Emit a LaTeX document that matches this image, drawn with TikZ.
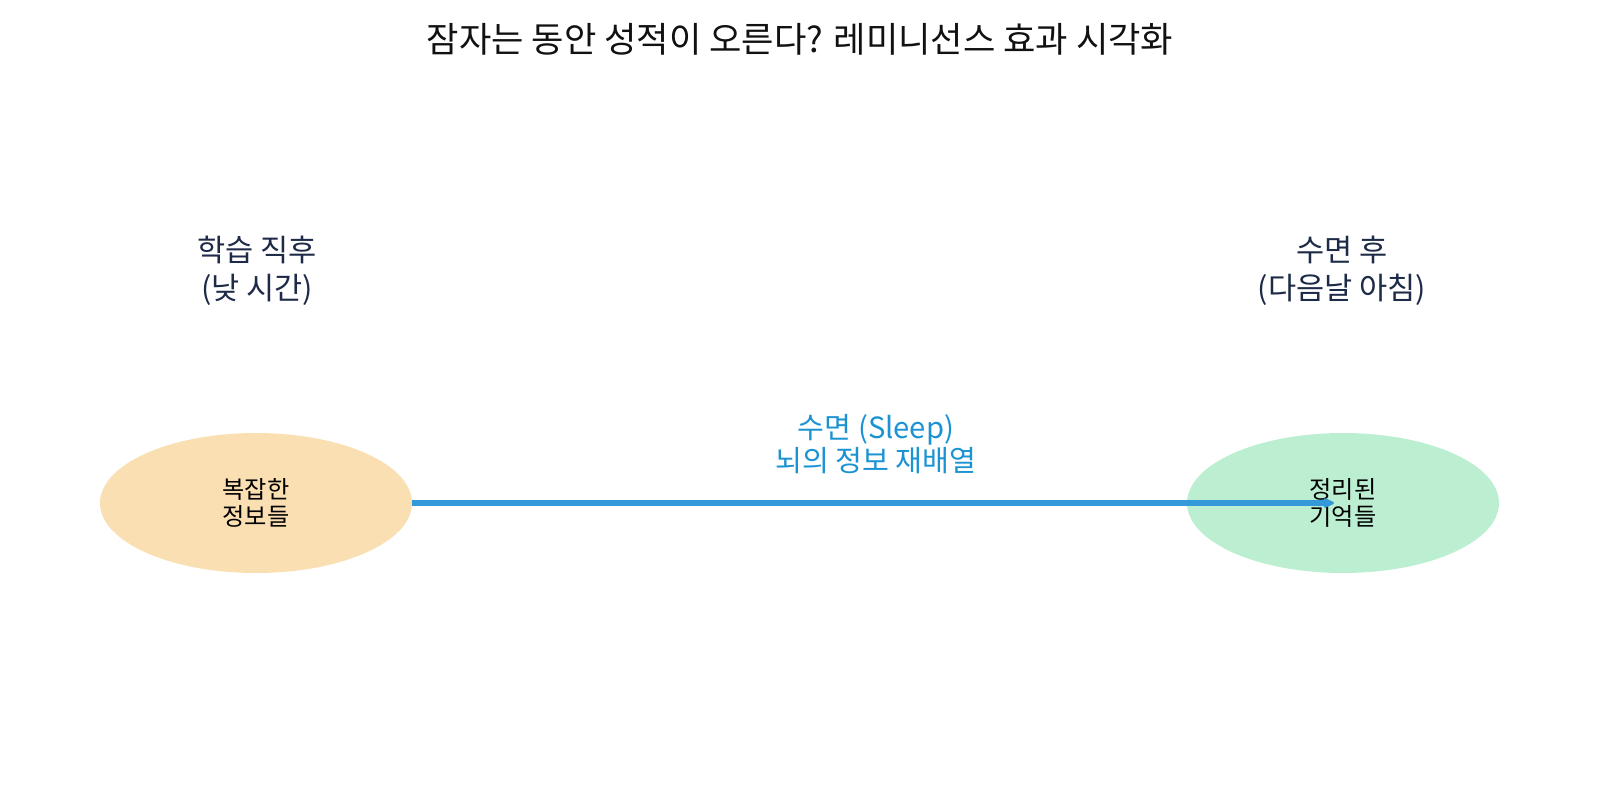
\documentclass[tikz,border=0pt]{standalone}
\usepackage{fontspec}
\setmainfont{Noto Sans CJK KR}
\usetikzlibrary{arrows.meta,shapes.geometric}
\definecolor{titlec}{HTML}{111111}
\definecolor{navy}{HTML}{1E2B48}
\definecolor{skyt}{HTML}{1B93D3}
\definecolor{arrc}{HTML}{3399D8}
\definecolor{orfill}{HTML}{F9DFB1}
\definecolor{grfill}{HTML}{BCEFD1}
\tikzset{
  blob/.style={ellipse, minimum width=156pt, minimum height=70pt, inner sep=0pt, align=center, text=black, font=\fontsize{12.1}{13.8}\selectfont},
  phase/.style={align=center, text=navy, font=\fontsize{15.3}{19}\selectfont},
  flowlbl/.style={align=center, text=skyt, font=\fontsize{14.6}{15.4}\selectfont},
  flowarr/.style={draw=arrc, line width=2.6pt, -{Stealth[length=7pt,width=6.5pt,round]}},
}
\begin{document}
\begin{tikzpicture}[x=0.5pt,y=-0.5pt]
\useasboundingbox (0,0) rectangle (1600,800);
\node[text=titlec, font=\fontsize{17.6}{20}\selectfont] (title) at (800,39) {잠자는 동안 성적이 오른다? 레미니선스 효과 시각화};
\node[phase] (before) at (257,271) {학습 직후\\(낮 시간)};
\node[phase] (after) at (1342,271) {수면 후\\(다음날 아침)};
\node[blob, fill=orfill] (info) at (256,503) {복잡한\\정보들};
\node[blob, fill=grfill] (mem) at (1343,503) {정리된\\기억들};
\coordinate (tip) at (1334,503);
\draw[flowarr] (info.east) -- (tip);
\node[flowlbl] (sleep) at (876,444) {수면 (Sleep)\\뇌의 정보 재배열};
\end{tikzpicture}
\end{document}
